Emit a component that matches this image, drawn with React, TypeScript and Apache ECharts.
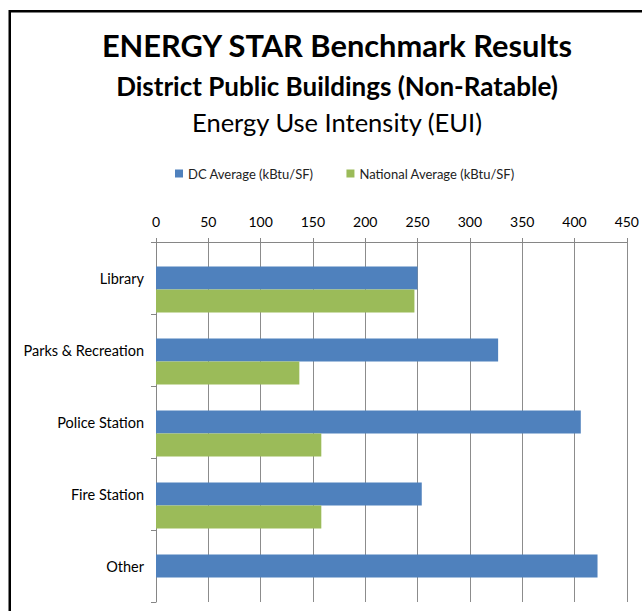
import React, { useEffect, useRef } from "react";
import * as echarts from "echarts";

const categories = ["Library", "Parks & Recreation", "Police Station", "Fire Station", "Other"];
const seriesNames = ["DC Average (kBtu/SF)", "National Average (kBtu/SF)"];
const dcAverage = [250, 327, 406, 254, 422];
const nationalAverage: (number | null)[] = [247, 137, 158, 158, null];
const spacerSeries: (number | null)[] = [null, null, null, null, null];
const xTicks = { min: 0, max: 450, interval: 50 };

const FONT = "Lato, 'Open Sans', sans-serif";

export default function App() {
  const ref = useRef<HTMLDivElement>(null);
  useEffect(() => {
    if (!ref.current) return;
    const chart = echarts.init(ref.current, undefined, { renderer: "svg" });
    chart.setOption({
      animation: false,
      backgroundColor: "#ffffff",
      textStyle: { fontFamily: FONT },
      graphic: [
        {
          type: "rect",
          shape: { x: 9.75, y: 11.25, width: 700, height: 700 },
          style: { fill: "none", stroke: "#000", lineWidth: 2.5 },
          silent: true,
          z: 10,
        },
        {
          type: "text",
          x: 337,
          y: 45,
          style: {
            text: "ENERGY STAR Benchmark Results",
            font: `bold 30.8px ${FONT}`,
            fill: "#000",
            textAlign: "center",
            textVerticalAlign: "middle",
          },
        },
        {
          type: "text",
          x: 337,
          y: 86,
          style: {
            text: "District Public Buildings (Non-Ratable)",
            font: `bold 26px ${FONT}`,
            fill: "#000",
            textAlign: "center",
            textVerticalAlign: "middle",
          },
        },
        {
          type: "text",
          x: 337,
          y: 122,
          style: {
            text: "Energy Use Intensity (EUI)",
            font: `normal 25.5px ${FONT}`,
            fill: "#000",
            textAlign: "center",
            textVerticalAlign: "middle",
          },
        },
      ],
      legend: {
        data: seriesNames,
        left: 170,
        top: 162,
        icon: "rect",
        itemWidth: 8,
        itemHeight: 8,
        itemGap: 33,
        textStyle: { fontSize: 13, color: "#222", fontFamily: FONT },
      },
      grid: { left: 156, right: 12, top: 242, bottom: 9, containLabel: false },
      xAxis: {
        type: "value",
        position: "top",
        min: xTicks.min,
        max: xTicks.max,
        interval: xTicks.interval,
        axisLine: { show: true, lineStyle: { color: "#868686", width: 1 } },
        axisTick: { show: true, inside: false, length: 4, lineStyle: { color: "#868686" } },
        axisLabel: { margin: 14, fontSize: 14, color: "#000", fontFamily: FONT },
        splitLine: { show: true, lineStyle: { color: "#8c8c8c", width: 1 } },
      },
      yAxis: {
        type: "category",
        data: categories,
        inverse: true,
        axisLine: { show: true, lineStyle: { color: "#868686", width: 1 } },
        axisTick: { show: true, length: 5, lineStyle: { color: "#868686" } },
        axisLabel: { margin: 12, fontSize: 14.5, color: "#000", fontFamily: FONT },
        splitLine: { show: false },
      },
      series: [
        {
          name: "spacer",
          type: "bar",
          data: spacerSeries,
          barGap: "0%",
          barCategoryGap: "4%",
          silent: true,
        },
        {
          name: seriesNames[0],
          type: "bar",
          data: dcAverage,
          itemStyle: { color: "#4F81BD" },
          barGap: "0%",
          barCategoryGap: "4%",
        },
        {
          name: seriesNames[1],
          type: "bar",
          data: nationalAverage,
          itemStyle: { color: "#9BBB59" },
          barGap: "0%",
          barCategoryGap: "4%",
        },
      ],
    });
    return () => chart.dispose();
  }, []);
  return (
    <div
      ref={ref}
      style={{ position: "fixed", left: 0, top: 0, width: 642, height: 611 }}
    />
  );
}
